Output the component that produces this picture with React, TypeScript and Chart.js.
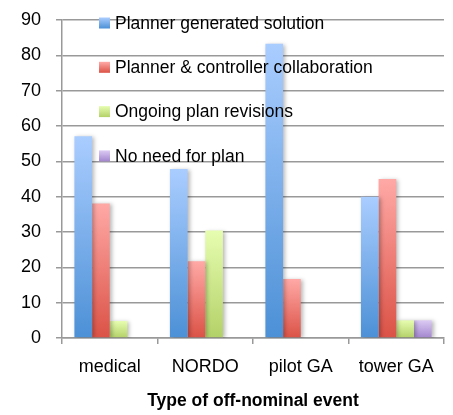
import React, { useEffect, useRef } from "react";
import { Chart, registerables } from "chart.js";

Chart.register(...registerables);

const categories = ["medical", "NORDO", "pilot GA", "tower GA"];
const seriesNames = [
  "Planner generated solution",
  "Planner & controller collaboration",
  "Ongoing plan revisions",
  "No need for plan",
];
const plannerGenerated = [57.1, 47.8, 83.3, 40];
const collaboration = [38.1, 21.7, 16.7, 45];
const ongoingRevisions = [4.8, 30.4, null, 5];
const noNeed = [null, null, null, 5];
const yTicks = [0, 10, 20, 30, 40, 50, 60, 70, 80, 90];

const gradients = [
  { top: "#AACDFF", bottom: "#4C90D6" },
  { top: "#FFA9A6", bottom: "#DB5246" },
  { top: "#E6FDB0", bottom: "#B3D168" },
  { top: "#DCCAF4", bottom: "#A286CE" },
];

const FONT = "'Liberation Sans', Arial, sans-serif";
const GRID = "#999999";

function barGradient(idx: number) {
  return (c: any) => {
    const chart = c.chart;
    const g = gradients[idx];
    if (!chart.chartArea || c.type !== "data" || c.raw == null) return g.bottom;
    const y = chart.scales.y;
    const top = y.getPixelForValue(c.raw);
    const base = y.getPixelForValue(0);
    const grad = chart.ctx.createLinearGradient(0, top, 0, base);
    grad.addColorStop(0, g.top);
    grad.addColorStop(1, g.bottom);
    return grad;
  };
}

const shadowPlugin = {
  id: "barShadow",
  beforeDatasetsDraw(chart: any) {
    const ctx = chart.ctx;
    ctx.save();
    ctx.shadowColor = "rgba(0,0,0,0.28)";
    ctx.shadowBlur = 4;
    ctx.shadowOffsetX = 2;
    ctx.shadowOffsetY = 1;
  },
  afterDatasetsDraw(chart: any) {
    chart.ctx.restore();
  },
};

const insideLegend = {
  id: "insideLegend",
  afterDraw(chart: any) {
    const ctx = chart.ctx;
    const area = chart.chartArea;
    const x0 = area.left + 37;
    const y0 = area.top + 3;
    const step = 44.3;
    ctx.save();
    ctx.font = `17.5px ${FONT}`;
    ctx.textBaseline = "middle";
    ctx.textAlign = "left";
    chart.data.datasets.forEach((ds: any, i: number) => {
      const cy = y0 + i * step;
      const g = gradients[i];
      const grad = ctx.createLinearGradient(0, cy - 5.5, 0, cy + 5.5);
      grad.addColorStop(0, g.top);
      grad.addColorStop(1, g.bottom);
      ctx.fillStyle = grad;
      ctx.fillRect(x0, cy - 5.5, 11, 11);
      ctx.fillStyle = "#000";
      ctx.fillText(ds.label, x0 + 16, cy + 1);
    });
    ctx.restore();
  },
};

export default function App() {
  const ref = useRef<HTMLCanvasElement | null>(null);
  useEffect(() => {
    if (!ref.current) return;
    const data = [plannerGenerated, collaboration, ongoingRevisions, noNeed];
    const chart = new Chart(ref.current, {
      type: "bar",
      data: {
        labels: categories,
        datasets: seriesNames.map((name, i) => ({
          label: name,
          data: data[i],
          backgroundColor: barGradient(i),
          borderWidth: 0,
          categoryPercentage: 0.74,
          barPercentage: 1,
        })),
      },
      options: {
        animation: false,
        responsive: false,
        layout: { padding: { top: 20, right: 9, left: 0, bottom: 0 } },
        plugins: {
          legend: { display: false },
          tooltip: { enabled: false },
        },
        scales: {
          x: {
            offset: true,
            grid: {
              display: true,
              drawOnChartArea: false,
              drawTicks: true,
              tickLength: 6,
              color: GRID,
              lineWidth: 1.5,
              offset: true,
            },
            border: { display: true, color: GRID, width: 1.5 },
            ticks: { color: "#000", font: { family: FONT, size: 18 }, padding: 12, maxRotation: 0 },
            title: {
              display: true,
              text: "Type of off-nominal event",
              color: "#000",
              font: { family: FONT, size: 17.5, weight: "bold" },
              padding: { top: 4, bottom: 3 },
            },
            afterFit(scale: any) {
              scale.height = 77;
              scale.paddingLeft = 0;
              scale.paddingRight = 0;
            },
          },
          y: {
            min: 0,
            max: 90,
            afterBuildTicks(scale: any) {
              scale.ticks = yTicks.map((v) => ({ value: v }));
            },
            grid: { color: GRID, lineWidth: 1.5, tickLength: 6 },
            border: { display: true, color: GRID, width: 1.5 },
            ticks: { color: "#000", font: { family: FONT, size: 18 }, padding: 15 },
            afterFit(scale: any) {
              scale.width = 62;
              scale.paddingTop = 0;
              scale.paddingBottom = 0;
            },
          },
        },
      },
      plugins: [shadowPlugin, insideLegend],
    });
    return () => chart.destroy();
  }, []);
  return (
    <div style={{ position: "fixed", left: 0, top: 0, width: 453, height: 415, background: "#fff" }}>
      <canvas ref={ref} width={453} height={415} />
    </div>
  );
}
